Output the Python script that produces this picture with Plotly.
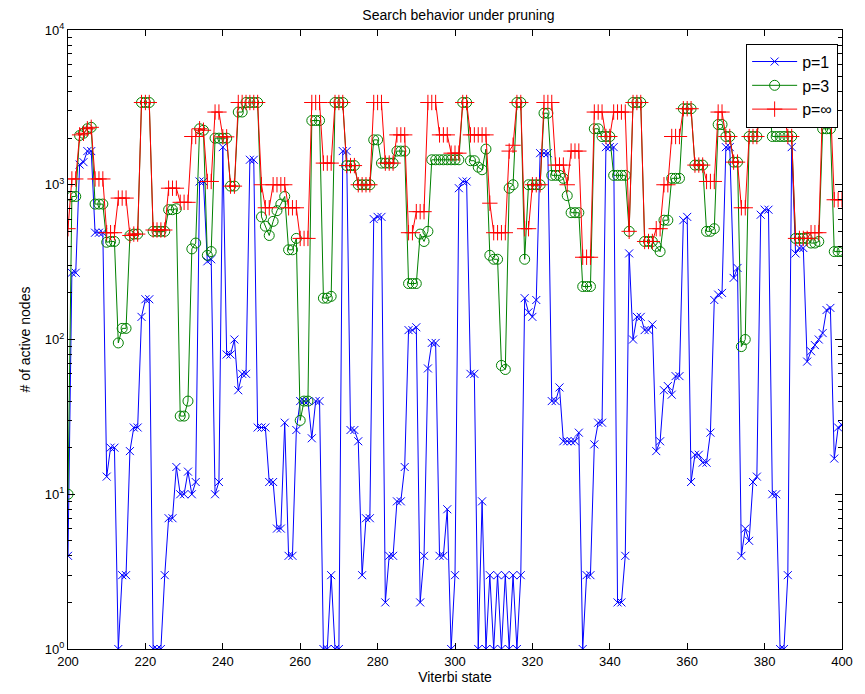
import plotly.graph_objects as go

# Viterbi states on the x axis
states = list(range(200, 401))

# number of active nodes, one value per state
p1 = [
    4, 270, 270, 1350, 1400, 1650, 1650, 490, 490, 490,          # 200-209
    13, 20, 20, 1, 3, 3, 19, 27, 27, 140,                        # 210-219
    182, 182, 1, 1, 1, 3, 7, 7, 15, 10,                          # 220-229
    10, 14, 10, 12, 1050, 1050, 320, 330, 10, 12,                # 230-239
    1750, 80, 80, 100, 47, 60, 60, 1450, 1450, 27,               # 240-249
    27, 27, 12, 12, 6, 6, 29, 4, 4, 26,                          # 250-259
    40, 40, 40, 23, 40, 40, 1, 1, 3, 1,                          # 260-269
    1, 1650, 1650, 26, 26, 22, 3, 7, 7, 600,                     # 270-279
    620, 620, 2, 4, 4, 9, 9, 15, 115, 115,                       # 280-289
    120, 2, 4, 65, 95, 95, 4, 4, 8, 1,                           # 290-299
    3, 950, 1050, 1050, 60, 60, 1, 9, 1, 3,                      # 300-309
    1, 3, 1, 3, 1, 3, 1, 3, 185, 150,                            # 310-319
    140, 180, 1600, 1600, 1600, 40, 40, 49, 22, 22,              # 320-329
    22, 22, 25, 1, 3, 3, 21, 29, 29, 1750,                       # 330-339
    1750, 1750, 2, 2, 4, 360, 100, 140, 140, 115,                # 340-349
    115, 125, 19, 22, 47, 50, 44, 58, 58, 590,                   # 350-359
    620, 12, 18, 18, 16, 16, 25, 180, 195, 200,                  # 360-369
    1750, 1750, 250, 290, 4, 6, 5, 12, 13, 640,                  # 370-379
    690, 690, 10, 10, 1, 1, 3, 1750, 360, 390,                   # 380-389
    390, 72, 84, 92, 100, 110, 155, 160, 17, 27,                 # 390-399
    28,                                                          # 400
]

p3 = [
    10, 840, 840, 2080, 2150, 2300, 2350, 750, 750, 750,         # 200-209
    425, 430, 430, 95, 118, 118, 470, 480, 480, 3400,            # 210-219
    3400, 3400, 500, 500, 500, 500, 690, 690, 700, 32,           # 220-229
    32, 40, 385, 420, 2300, 2250, 350, 370, 2000, 2000,          # 230-239
    2000, 2000, 980, 980, 2950, 2950, 3400, 3400, 3400, 3400,    # 240-249
    620, 540, 470, 580, 680, 750, 840, 380, 380, 450,            # 250-259
    30, 40, 40, 2600, 2600, 2600, 185, 185, 190, 3400,           # 260-269
    3400, 3400, 1330, 1330, 1330, 1000, 1000, 1000, 1000, 1950,  # 270-279
    1950, 1380, 1380, 1380, 1380, 1650, 1650, 1650, 230, 230,    # 280-289
    230, 480, 430, 500, 1450, 1450, 1450, 1450, 1450, 1450,      # 290-299
    1450, 1450, 3400, 3400, 1430, 1430, 1300, 1250, 1700, 350,   # 300-309
    330, 330, 68, 64, 950, 1000, 3400, 3400, 330, 1000,          # 310-319
    1000, 1000, 1000, 2900, 2900, 1150, 1150, 1150, 1100, 850,   # 320-329
    660, 660, 660, 220, 220, 220, 2300, 2300, 2050, 2050,        # 330-339
    2050, 1150, 1150, 1150, 1150, 500, 3400, 3400, 3400, 430,    # 340-349
    430, 430, 400, 370, 590, 590, 1100, 1100, 1100, 3100,        # 350-359
    3100, 3100, 1340, 1340, 1340, 500, 500, 520, 2450, 2450,     # 360-369
    2050, 2050, 1400, 1400, 90, 100, 2050, 2050, 2050, 3400,     # 370-379
    3400, 3400, 2050, 2050, 2050, 2050, 2050, 2050, 450, 450,    # 380-389
    450, 450, 420, 420, 430, 2300, 2300, 2300, 370, 370,         # 390-399
    370,                                                         # 400
]

p_inf = [
    520, 1090, 1090, 2100, 2150, 2300, 2350, 1090, 1090, 1090,   # 200-209
    490, 490, 490, 820, 820, 820, 470, 480, 480, 3400,           # 210-219
    3400, 3400, 510, 510, 510, 510, 950, 950, 950, 770,          # 220-229
    770, 770, 2050, 2050, 2300, 2250, 1050, 1050, 2950, 2950,    # 230-239
    2040, 2040, 980, 980, 3400, 3400, 3400, 3400, 3400, 3400,    # 240-249
    1000, 710, 710, 1000, 1000, 1000, 1000, 710, 710, 710,       # 250-259
    450, 450, 450, 3400, 3400, 3400, 1380, 1380, 1380, 3400,     # 260-269
    3400, 3400, 1330, 1330, 1330, 1000, 1000, 1000, 1000, 3400,  # 270-279
    3400, 3400, 1380, 1380, 1380, 2100, 2100, 2100, 490, 490,    # 280-289
    670, 670, 670, 3400, 3400, 3400, 2100, 2100, 2100, 1600,     # 290-299
    1600, 1600, 3400, 3400, 2100, 2100, 2100, 2100, 2100, 760,   # 300-309
    490, 490, 490, 490, 1650, 1800, 3400, 3400, 520, 520,        # 310-319
    1000, 1000, 1000, 3400, 3400, 3400, 1340, 1340, 1340, 1000,  # 320-329
    1650, 1650, 1650, 340, 340, 340, 2950, 2950, 2950, 2050,     # 330-339
    2050, 2950, 2950, 2950, 2950, 500, 3400, 3400, 3400, 430,    # 340-349
    430, 430, 520, 520, 1000, 1000, 2050, 2050, 2050, 3100,      # 350-359
    3100, 3100, 1340, 1340, 1340, 1050, 1050, 1050, 2950, 2950,  # 360-369
    2050, 2050, 1400, 1400, 710, 710, 2050, 2050, 2050, 3400,    # 370-379
    3400, 3400, 2950, 2950, 2950, 2950, 2050, 2050, 450, 450,    # 380-389
    450, 450, 490, 490, 490, 3400, 3400, 3400, 800, 800,         # 390-399
    800,                                                         # 400
]

x_ticks = list(range(200, 401, 20))
y_ticks = [1, 10, 100, 1000, 10000]
y_tick_text = ["10<sup>0</sup>", "10<sup>1</sup>", "10<sup>2</sup>", "10<sup>3</sup>", "10<sup>4</sup>"]
y_minor = [m * 10 ** e for e in range(4) for m in range(2, 10)]

FONT = "Liberation Sans, Arial, Helvetica, sans-serif"

fig = go.Figure()
fig.add_trace(go.Scatter(
    x=states, y=p1, name="p=1", mode="lines+markers",
    line=dict(color="#0000ff", width=1),
    marker=dict(symbol="x-thin-open", size=8, color="#0000ff",
                line=dict(color="#0000ff", width=1)),
))
fig.add_trace(go.Scatter(
    x=states, y=p3, name="p=3", mode="lines+markers",
    line=dict(color="#008000", width=1),
    marker=dict(symbol="circle-open", size=10, color="#008000",
                line=dict(color="#008000", width=1)),
))
fig.add_trace(go.Scatter(
    x=states, y=p_inf, name="p=∞", mode="lines+markers",
    line=dict(color="#ff0000", width=1),
    marker=dict(symbol="cross-thin-open", size=11, color="#ff0000",
                line=dict(color="#ff0000", width=1)),
))

axis_common = dict(
    showgrid=False, zeroline=False, showline=True, linecolor="black",
    linewidth=1, mirror="ticks", ticks="inside", tickcolor="black",
    tickfont=dict(family=FONT, size=13, color="black"),
)

fig.update_layout(
    width=865, height=694,
    margin=dict(l=68, r=12, t=30, b=44),
    paper_bgcolor="white", plot_bgcolor="white",
    font=dict(family=FONT, size=13, color="black"),
    title=dict(text="Search behavior under pruning", x=0.53, xanchor="center",
               y=0.985, yanchor="top", font=dict(family=FONT, size=14)),
    xaxis=dict(
        range=[200, 400], tickvals=x_ticks, ticklen=6,
        title=dict(text="Viterbi state", standoff=4,
                   font=dict(family=FONT, size=14)),
        **axis_common,
    ),
    yaxis=dict(
        type="log", range=[0, 4], tickvals=y_ticks, ticktext=y_tick_text,
        ticklen=7,
        minor=dict(tickvals=y_minor, ticks="inside", ticklen=4,
                   tickcolor="black", showgrid=False),
        title=dict(text="# of active nodes", standoff=10,
                   font=dict(family=FONT, size=14)),
        **axis_common,
    ),
    legend=dict(
        x=0.995, xanchor="right", y=0.978, yanchor="top",
        bgcolor="white", bordercolor="black", borderwidth=1,
        font=dict(family=FONT, size=16),
        itemwidth=45, tracegroupgap=0,
    ),
    showlegend=True,
)

fig.write_html("out.html")
